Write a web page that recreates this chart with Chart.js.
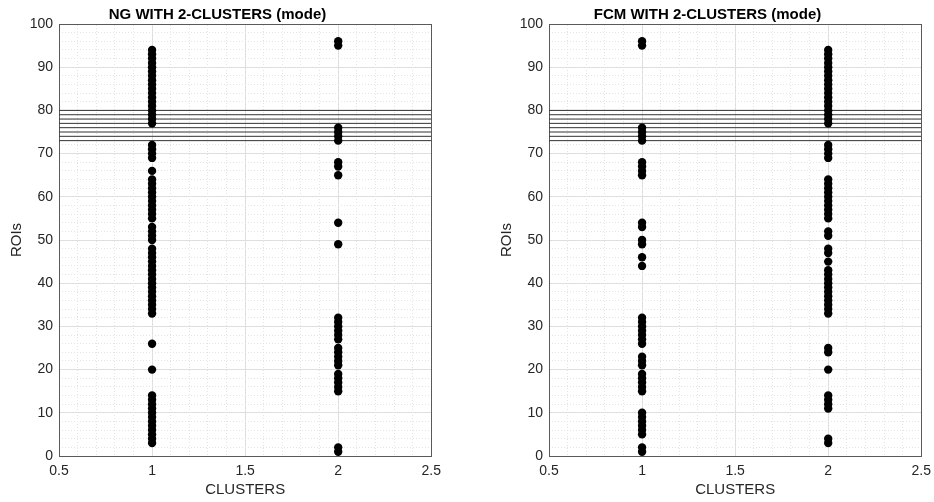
<!DOCTYPE html>
<html>
<head>
<meta charset="utf-8">
<script src="https://cdn.jsdelivr.net/npm/chart.js@4.4.0/dist/chart.umd.min.js"></script>
<style>
html,body{margin:0;padding:0;background:#fff;}
#wrap{position:relative;width:934px;height:502px;overflow:hidden;background:#fff;}
canvas{position:absolute;top:0;}
</style>
</head>
<body>
<div id="wrap">
<canvas id="ng" width="448" height="502" style="left:0px"></canvas>
<canvas id="fcm" width="448" height="502" style="left:490px"></canvas>
</div>
<script>
// ---- data (ROI numbers assigned to each cluster) ----
const clusterIds = [1, 2];
const ngCluster1Rois = [3,4,5,6,7,8,9,10,11,12,13,14,20,26,33,34,35,36,37,38,39,40,41,42,43,44,45,46,47,48,50,51,52,53,55,56,57,58,59,60,61,62,63,64,66,69,70,71,72,77,78,79,80,81,82,83,84,85,86,87,88,89,90,91,92,93,94];
const ngCluster2Rois = [1,2,15,16,17,18,19,21,22,23,24,25,27,28,29,30,31,32,49,54,65,67,68,73,74,75,76,95,96];
const fcmCluster1Rois = [1,2,5,6,7,8,9,10,15,16,17,18,19,21,22,23,26,27,28,29,30,31,32,44,46,49,50,53,54,65,66,67,68,73,74,75,76,95,96];
const fcmCluster2Rois = [3,4,11,12,13,14,20,24,25,33,34,35,36,37,38,39,40,41,42,43,45,47,48,51,52,55,56,57,58,59,60,61,62,63,64,69,70,71,72,77,78,79,80,81,82,83,84,85,86,87,88,89,90,91,92,93,94];
const refLineLevels = [73, 74, 75, 76, 77, 78, 79, 80];
const xRange = [0.5, 2.5];
const yRange = [0, 100];
const xTickValues = [0.5, 1, 1.5, 2, 2.5];
const xTickLabels = ['0.5', '1', '1.5', '2', '2.5'];
const yTickValues = [0, 10, 20, 30, 40, 50, 60, 70, 80, 90, 100];
const chartTitles = ['NG WITH 2-CLUSTERS (mode)', 'FCM WITH 2-CLUSTERS (mode)'];
const xAxisTitle = 'CLUSTERS';
const yAxisTitle = 'ROIs';

Chart.defaults.font.family = "'Liberation Sans', Arial, Helvetica, sans-serif";
Chart.defaults.color = '#262626';

const AXIS_COLOR = '#5a5a5a';
const MAJOR_GRID = '#dcdcdc';
const MINOR_GRID = '#e4e4e4';

function buildConfig(title, c1, c2) {
  const datasets = [
    { type: 'scatter', data: c1.map(r => ({x: clusterIds[0], y: r})), backgroundColor: '#000', borderWidth: 0, pointRadius: 4.2, xAxisID: 'x', yAxisID: 'y', order: 0 },
    { type: 'scatter', data: c2.map(r => ({x: clusterIds[1], y: r})), backgroundColor: '#000', borderWidth: 0, pointRadius: 4.2, xAxisID: 'x', yAxisID: 'y', order: 0 }
  ];
  refLineLevels.forEach(v => {
    datasets.push({ type: 'line', data: [{x: xRange[0], y: v}, {x: xRange[1], y: v}], borderColor: '#333', borderWidth: 1, pointRadius: 0, fill: false, xAxisID: 'x', yAxisID: 'y', order: 1 });
  });
  return {
    type: 'scatter',
    data: { datasets },
    options: {
      responsive: false,
      animation: false,
      events: [],
      layout: { padding: { left: 0, right: 13, top: 0, bottom: 0 } },
      plugins: {
        legend: { display: false },
        tooltip: { enabled: false },
        title: { display: true, text: title, color: '#000', font: { size: 15, weight: 'bold' }, padding: { top: 6, bottom: 0 } }
      },
      scales: {
        x: {
          type: 'linear', position: 'bottom', min: xRange[0], max: xRange[1],
          afterBuildTicks: s => { s.ticks = xTickValues.map(v => ({value: v})); },
          ticks: { font: { size: 14 }, color: '#262626', padding: 7, maxRotation: 0,
                   callback: v => { const i = xTickValues.indexOf(v); return i >= 0 ? xTickLabels[i] : ''; } },
          grid: { color: MAJOR_GRID, drawTicks: false },
          border: { color: AXIS_COLOR, width: 1 },
          title: { display: true, text: xAxisTitle, font: { size: 15 }, color: '#262626', padding: { top: 0, bottom: 3 } },
          afterFit: s => { s.height = 46; }
        },
        y: {
          type: 'linear', position: 'left', min: yRange[0], max: yRange[1],
          afterBuildTicks: s => { s.ticks = yTickValues.map(v => ({value: v})); },
          ticks: { font: { size: 14 }, color: '#262626', padding: 6 },
          grid: { color: MAJOR_GRID, drawTicks: false },
          border: { color: AXIS_COLOR, width: 1 },
          title: { display: true, text: yAxisTitle, font: { size: 15 }, color: '#262626', padding: { top: 8, bottom: 0 } },
          afterFit: s => { s.width = 59; }
        },
        xMinor: {
          type: 'linear', position: 'top', min: xRange[0], max: xRange[1],
          ticks: { display: false, stepSize: 0.1, maxTicksLimit: 100 },
          grid: { color: MINOR_GRID, drawTicks: false },
          border: { display: true, color: AXIS_COLOR, width: 1, dash: [1, 2] },
          afterFit: s => { s.height = 0; }
        },
        yMinor: {
          type: 'linear', position: 'right', min: yRange[0], max: yRange[1],
          ticks: { display: false, stepSize: 2, maxTicksLimit: 100 },
          grid: { color: MINOR_GRID, drawTicks: false },
          border: { display: true, color: AXIS_COLOR, width: 1, dash: [1, 2] },
          afterFit: s => { s.width = 0; }
        }
      }
    }
  };
}

new Chart(document.getElementById('ng'), buildConfig(chartTitles[0], ngCluster1Rois, ngCluster2Rois));
new Chart(document.getElementById('fcm'), buildConfig(chartTitles[1], fcmCluster1Rois, fcmCluster2Rois));
</script>
</body>
</html>
